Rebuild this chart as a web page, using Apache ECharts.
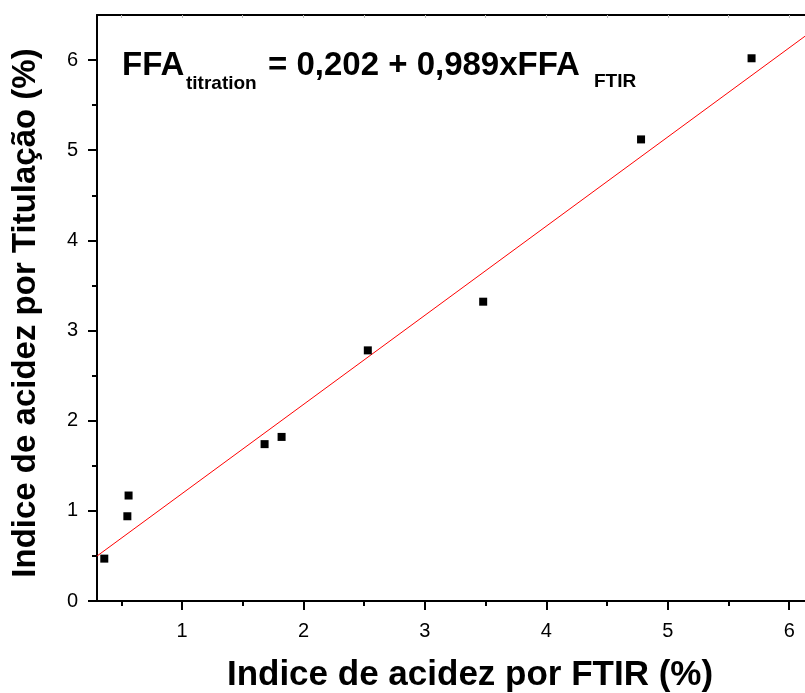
<!DOCTYPE html>
<html>
<head>
<meta charset="utf-8">
<title>FFA FTIR x Titulação</title>
<script src="https://cdn.jsdelivr.net/npm/echarts@6/dist/echarts.min.js"></script>
<style>
  html, body { margin: 0; padding: 0; background: #ffffff; }
  #chart { width: 805px; height: 693px; }
</style>
</head>
<body>
<div id="chart"></div>
<script>
// Measured acidity (%): FTIR estimate vs. titration
const ftirValues = [0.36, 0.55, 0.56, 1.68, 1.82, 2.53, 3.48, 4.78, 5.69];
const titrationValues = [0.47, 0.94, 1.17, 1.74, 1.82, 2.78, 3.32, 5.12, 6.02];

// Linear fit: FFA_titration = intercept + slope * FFA_FTIR
const fitIntercept = 0.202;
const fitSlope = 0.989;

// Axis ranges and tick positions
const xRange = [0.3, 6.13];
const yRange = [0, 6.5];
const xMajorTicks = [1, 2, 3, 4, 5, 6];
const xMinorTicks = [0.5, 1.5, 2.5, 3.5, 4.5, 5.5];
const yMajorTicks = [0, 1, 2, 3, 4, 5, 6];
const yMinorTicks = [0.5, 1.5, 2.5, 3.5, 4.5, 5.5];

const xTitle = 'Indice de acidez por FTIR (%)';
const yTitle = 'Indice de acidez por Titulação (%)';

const points = ftirValues.map((x, i) => [x, titrationValues[i]]);
const fitLine = xRange.map(x => [x, fitIntercept + fitSlope * x]);

const FONT = '"Liberation Sans", Arial, sans-serif';
const AXIS_COLOR = '#000000';

const chart = echarts.init(document.getElementById('chart'), null, { renderer: 'canvas' });

const baseX = {
  type: 'value', gridIndex: 0, min: xRange[0], max: xRange[1],
  splitLine: { show: false }
};
const baseY = {
  type: 'value', gridIndex: 0, min: yRange[0], max: yRange[1],
  splitLine: { show: false }
};

chart.setOption({
  animation: false,
  backgroundColor: '#ffffff',
  grid: { left: 97, top: 15, right: 0, bottom: 92, containLabel: false },
  xAxis: [
    Object.assign({}, baseX, {
      position: 'bottom',
      axisLine: { show: true, lineStyle: { color: AXIS_COLOR, width: 2 } },
      axisTick: { show: true, inside: false, length: 9, customValues: xMajorTicks,
                  lineStyle: { color: AXIS_COLOR, width: 2 } },
      axisLabel: { show: true, customValues: xMajorTicks, margin: 20,
                   fontFamily: FONT, fontSize: 20, color: '#000000' }
    }),
    Object.assign({}, baseX, {
      position: 'bottom',
      axisLine: { show: false },
      axisTick: { show: true, inside: false, length: 5, customValues: xMinorTicks,
                  lineStyle: { color: AXIS_COLOR, width: 2 } },
      axisLabel: { show: false }
    }),
    Object.assign({}, baseX, {
      position: 'top',
      axisLine: { show: true, lineStyle: { color: AXIS_COLOR, width: 2 } },
      axisTick: { show: true, inside: true, length: 3,
                  customValues: xMajorTicks.concat(xMinorTicks),
                  lineStyle: { color: '#bbbbbb', width: 1 } },
      axisLabel: { show: false }
    })
  ],
  yAxis: [
    Object.assign({}, baseY, {
      position: 'left',
      axisLine: { show: true, lineStyle: { color: AXIS_COLOR, width: 2 } },
      axisTick: { show: true, inside: false, length: 9, customValues: yMajorTicks,
                  lineStyle: { color: AXIS_COLOR, width: 2 } },
      axisLabel: { show: true, customValues: yMajorTicks, margin: 19,
                   fontFamily: FONT, fontSize: 20, color: '#000000' }
    }),
    Object.assign({}, baseY, {
      position: 'left',
      axisLine: { show: false },
      axisTick: { show: true, inside: false, length: 5, customValues: yMinorTicks,
                  lineStyle: { color: AXIS_COLOR, width: 2 } },
      axisLabel: { show: false }
    })
  ],
  series: [
    {
      name: 'Ajuste linear',
      type: 'line',
      xAxisIndex: 0, yAxisIndex: 0,
      data: fitLine,
      showSymbol: false,
      symbol: 'none',
      lineStyle: { color: '#ff0000', width: 1 },
      clip: true,
      z: 2
    },
    {
      name: 'Amostras',
      type: 'scatter',
      xAxisIndex: 0, yAxisIndex: 0,
      data: points,
      symbol: 'rect',
      symbolSize: 8,
      itemStyle: { color: '#000000', opacity: 1 },
      z: 3
    }
  ],
  graphic: [
    // Axis titles
    {
      type: 'text', x: 470, y: 675,
      style: { text: xTitle, fill: '#000', font: 'bold 35px ' + FONT,
               align: 'center', verticalAlign: 'middle' }
    },
    {
      type: 'text', x: 26, y: 313, rotation: Math.PI / 2,
      style: { text: yTitle, fill: '#000', font: 'bold 33px ' + FONT,
               align: 'center', verticalAlign: 'middle' }
    },
    // Fit equation with subscripts
    {
      type: 'text', x: 122, y: 65.5,
      style: { text: 'FFA', fill: '#000', font: 'bold 33px ' + FONT,
               align: 'left', verticalAlign: 'middle' }
    },
    {
      type: 'text', x: 186, y: 83.5,
      style: { text: 'titration', fill: '#000', font: 'bold 19px ' + FONT,
               align: 'left', verticalAlign: 'middle' }
    },
    {
      type: 'text', x: 268, y: 65.5,
      style: { text: '= ' + String(fitIntercept).replace('.', ',') + ' + ' +
                     String(fitSlope).replace('.', ',') + 'xFFA',
               fill: '#000', font: 'bold 33px ' + FONT,
               align: 'left', verticalAlign: 'middle' }
    },
    {
      type: 'text', x: 594, y: 81.5,
      style: { text: 'FTIR', fill: '#000', font: 'bold 19px ' + FONT,
               align: 'left', verticalAlign: 'middle' }
    }
  ]
});
</script>
</body>
</html>
